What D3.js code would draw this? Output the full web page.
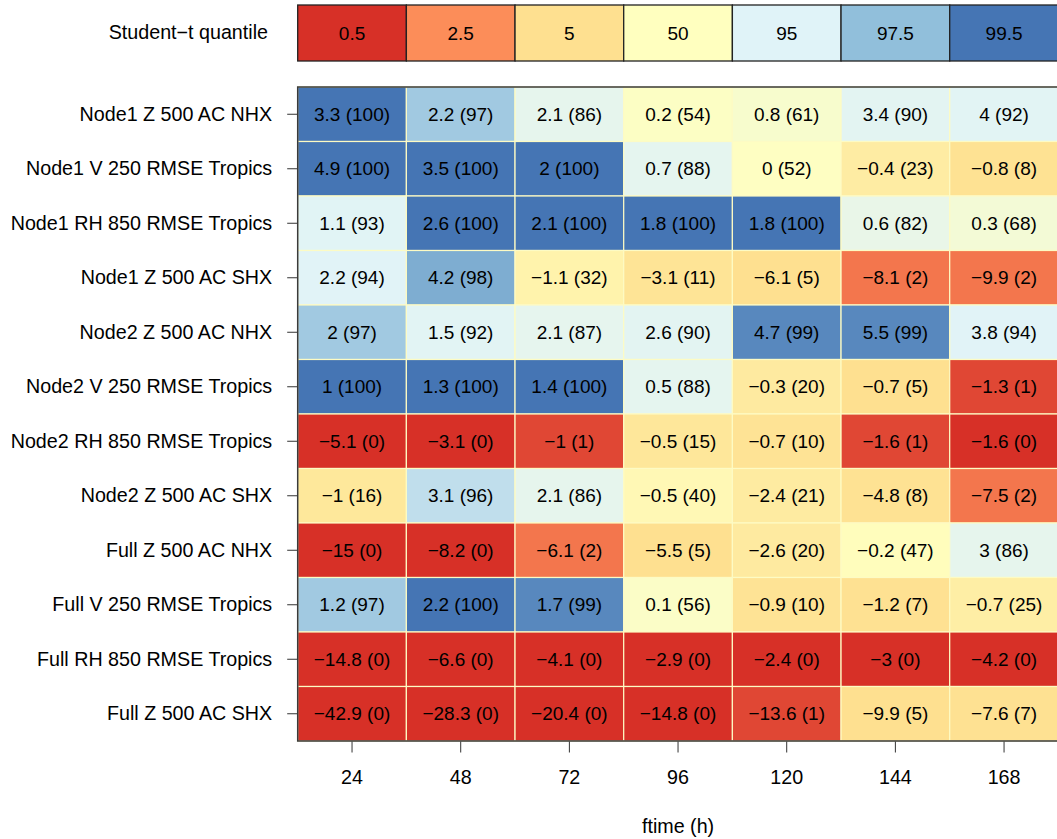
<!DOCTYPE html>
<html>
<head>
<meta charset="utf-8">
<script src="https://cdn.jsdelivr.net/npm/d3@7"></script>
<style>
  body { margin: 0; background: #fff; }
  text { font-family: "Liberation Sans", Arial, sans-serif; fill: #000; }
</style>
</head>
<body>
<script>
// row labels, top to bottom
var rowNames = ["Node1 Z 500 AC NHX", "Node1 V 250 RMSE Tropics", "Node1 RH 850 RMSE Tropics", "Node1 Z 500 AC SHX",
  "Node2 Z 500 AC NHX", "Node2 V 250 RMSE Tropics", "Node2 RH 850 RMSE Tropics", "Node2 Z 500 AC SHX",
  "Full Z 500 AC NHX", "Full V 250 RMSE Tropics", "Full RH 850 RMSE Tropics", "Full Z 500 AC SHX"];
var ftimes = [24, 48, 72, 96, 120, 144, 168];

// t statistic per cell
var tValues = [
  [3.3, 2.2, 2.1, 0.2, 0.8, 3.4, 4],
  [4.9, 3.5, 2, 0.7, 0, -0.4, -0.8],
  [1.1, 2.6, 2.1, 1.8, 1.8, 0.6, 0.3],
  [2.2, 4.2, -1.1, -3.1, -6.1, -8.1, -9.9],
  [2, 1.5, 2.1, 2.6, 4.7, 5.5, 3.8],
  [1, 1.3, 1.4, 0.5, -0.3, -0.7, -1.3],
  [-5.1, -3.1, -1, -0.5, -0.7, -1.6, -1.6],
  [-1, 3.1, 2.1, -0.5, -2.4, -4.8, -7.5],
  [-15, -8.2, -6.1, -5.5, -2.6, -0.2, 3],
  [1.2, 2.2, 1.7, 0.1, -0.9, -1.2, -0.7],
  [-14.8, -6.6, -4.1, -2.9, -2.4, -3, -4.2],
  [-42.9, -28.3, -20.4, -14.8, -13.6, -9.9, -7.6]
];
// quantile (%) per cell
var quantiles = [
  [100, 97, 86, 54, 61, 90, 92],
  [100, 100, 100, 88, 52, 23, 8],
  [93, 100, 100, 100, 100, 82, 68],
  [94, 98, 32, 11, 5, 2, 2],
  [97, 92, 87, 90, 99, 99, 94],
  [100, 100, 100, 88, 20, 5, 1],
  [0, 0, 1, 15, 10, 1, 0],
  [16, 96, 86, 40, 21, 8, 2],
  [0, 0, 2, 5, 20, 47, 86],
  [97, 100, 99, 56, 10, 7, 25],
  [0, 0, 0, 0, 0, 0, 0],
  [0, 0, 0, 0, 1, 5, 7]
];

// legend breaks and colours
var legendBreaks = [0.5, 2.5, 5, 50, 95, 97.5, 99.5];
var legendLabels = ["0.5", "2.5", "5", "50", "95", "97.5", "99.5"];
var legendColors = ["#d73027", "#fc8d59", "#fee090", "#ffffbf", "#e0f3f8", "#91bfdb", "#4575b4"];

var W = 1057, H = 839;
var left = 297.7, colW = 108.67;
var plotTop = 87, plotBottom = 741;
var legTop = 5, legBottom = 61;
var fs = 19;     // cell text
var lfs = 19.7;  // axis labels

var svg = d3.select("body").append("svg")
    .attr("width", W)
    .attr("height", H);

var color = d3.scaleLinear()
    .domain(legendBreaks)
    .range(legendColors)
    .interpolate(d3.interpolateRgb)
    .clamp(true);

var x = d3.scaleBand()
    .domain(ftimes)
    .range([left, left + colW * ftimes.length]);
var y = d3.scaleBand()
    .domain(rowNames)
    .range([plotTop, plotBottom]);

function fmt(v) { return String(v).replace("-", "\u2212"); }

// cells
var cells = [];
rowNames.forEach(function(r, i) {
  ftimes.forEach(function(f, j) {
    cells.push({row: r, ft: f, t: tValues[i][j], q: quantiles[i][j]});
  });
});

svg.selectAll(".cell")
    .data(cells)
  .enter().append("rect")
    .attr("class", "cell")
    .attr("x", function(d) { return x(d.ft); })
    .attr("y", function(d) { return y(d.row); })
    .attr("width", x.bandwidth())
    .attr("height", y.bandwidth())
    .style("fill", function(d) { return color(d.q); })
    .style("stroke", "#fdfbc4")
    .style("stroke-width", 1.2);

svg.selectAll(".cellText")
    .data(cells)
  .enter().append("text")
    .attr("class", "cellText")
    .attr("x", function(d) { return x(d.ft) + x.bandwidth() / 2; })
    .attr("y", function(d) { return y(d.row) + y.bandwidth() / 2; })
    .attr("dy", "0.33em")
    .style("text-anchor", "middle")
    .style("font-size", fs + "px")
    .text(function(d) { return fmt(d.t) + " (" + d.q + ")"; });

// plot frame
svg.append("rect")
    .attr("x", left)
    .attr("y", plotTop)
    .attr("width", colW * ftimes.length)
    .attr("height", plotBottom - plotTop)
    .style("fill", "none")
    .style("stroke", "#3a3a3a")
    .style("stroke-width", 1.5);

// y axis
var yAxis = d3.axisLeft(y).tickSize(10).tickPadding(15);
var gy = svg.append("g")
    .attr("transform", "translate(" + (left - 0.5) + ",0)")
    .call(yAxis);
gy.select(".domain").remove();
gy.selectAll("text").style("font-size", lfs + "px").style("font-family", "Liberation Sans, Arial, sans-serif");
gy.selectAll("line").style("stroke", "#333");

// x axis
var xAxis = d3.axisBottom(x).tickSize(11).tickPadding(18);
var gx = svg.append("g")
    .attr("transform", "translate(0," + (plotBottom + 0.5) + ")")
    .call(xAxis);
gx.select(".domain").remove();
gx.selectAll("text").style("font-size", lfs + "px").style("font-family", "Liberation Sans, Arial, sans-serif");
gx.selectAll("line").style("stroke", "#333");

svg.append("text")
    .attr("x", left + colW * ftimes.length / 2)
    .attr("y", 826)
    .attr("dy", "0.36em")
    .style("text-anchor", "middle")
    .style("font-size", lfs + "px")
    .text("ftime (h)");

// legend
var lx = d3.scaleBand()
    .domain(legendLabels)
    .range([left, left + colW * legendLabels.length]);

var legend = svg.selectAll(".legend")
    .data(legendLabels)
  .enter().append("g")
    .attr("class", "legend");

legend.append("rect")
    .attr("x", function(d) { return lx(d); })
    .attr("y", legTop)
    .attr("width", lx.bandwidth())
    .attr("height", legBottom - legTop)
    .style("fill", function(d, i) { return legendColors[i]; })
    .style("stroke", "#222")
    .style("stroke-width", 1.3);

legend.append("text")
    .attr("x", function(d) { return lx(d) + lx.bandwidth() / 2; })
    .attr("y", (legTop + legBottom) / 2)
    .attr("dy", "0.36em")
    .style("text-anchor", "middle")
    .style("font-size", fs + "px")
    .text(function(d) { return d; });

svg.append("text")
    .attr("x", 268)
    .attr("y", 32)
    .attr("dy", "0.36em")
    .style("text-anchor", "end")
    .style("font-size", lfs + "px")
    .text("Student\u2212t quantile");
</script>
</body>
</html>
